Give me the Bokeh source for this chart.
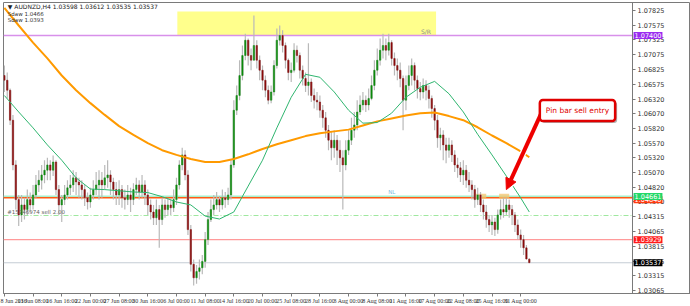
from bokeh.plotting import figure
from bokeh.models import (Range1d, FixedTicker, Label, Arrow, NormalHead, LinearAxis,
                          ColumnDataSource, BoxAnnotation, PrintfTickFormatter)
from bokeh.embed import file_html
from bokeh.resources import INLINE

# ---------------- data (AUDNZD H4, one candle per 8h) ----------------
first_open = 1.0672
last_open = 1.03598
closes = [1.0664, 1.0647, 1.0596, 1.0520, 1.0461, 1.0435, 1.0452, 1.0444, 1.0461, 1.0452,
          1.0469, 1.0486, 1.0494, 1.0503, 1.0511, 1.0520, 1.0511, 1.0525, 1.0478, 1.0452,
          1.0461, 1.0469, 1.0481, 1.0486, 1.0498, 1.0491, 1.0486, 1.0478, 1.0464, 1.0457,
          1.0469, 1.0478, 1.0486, 1.0494, 1.0486, 1.0498, 1.0503, 1.0491, 1.0478, 1.0469,
          1.0478, 1.0464, 1.0461, 1.0469, 1.0461, 1.0478, 1.0486, 1.0474, 1.0486, 1.0469,
          1.0452, 1.0440, 1.0430, 1.0444, 1.0427, 1.0452, 1.0444, 1.0452, 1.0447, 1.0461,
          1.0486, 1.0520, 1.0537, 1.0503, 1.0410, 1.0351, 1.0328, 1.0339, 1.0345, 1.0356,
          1.0393, 1.0427, 1.0444, 1.0452, 1.0461, 1.0452, 1.0464, 1.0461, 1.0469, 1.0520,
          1.0613, 1.0638, 1.0672, 1.0706, 1.0732, 1.0706, 1.0698, 1.0723, 1.0698, 1.0681,
          1.0664, 1.0647, 1.0630, 1.0644, 1.0689, 1.0732, 1.0740, 1.0723, 1.0698, 1.0677,
          1.0681, 1.0715, 1.0706, 1.0681, 1.0667, 1.0655, 1.0661, 1.0638, 1.0630, 1.0627,
          1.0613, 1.0600, 1.0579, 1.0562, 1.0549, 1.0562, 1.0545, 1.0532, 1.0520, 1.0545,
          1.0562, 1.0579, 1.0588, 1.0610, 1.0622, 1.0630, 1.0622, 1.0633, 1.0655, 1.0681,
          1.0698, 1.0715, 1.0723, 1.0715, 1.0728, 1.0701, 1.0689, 1.0681, 1.0667, 1.0630,
          1.0655, 1.0672, 1.0689, 1.0664, 1.0650, 1.0644, 1.0655, 1.0647, 1.0633, 1.0616,
          1.0596, 1.0566, 1.0571, 1.0554, 1.0545, 1.0554, 1.0537, 1.0520, 1.0515, 1.0503,
          1.0511, 1.0494, 1.0486, 1.0478, 1.0461, 1.0469, 1.0452, 1.0440, 1.0427, 1.0418,
          1.0423, 1.0410, 1.0435, 1.0444, 1.0440, 1.0452, 1.0444, 1.0435, 1.0418, 1.0401,
          1.0393, 1.0379, 1.0360, 1.03537]
highs = [1.0689, 1.0677, 1.0650, 1.0605, 1.0528, 1.0469, 1.0469, 1.0464, 1.0478, 1.0473,
         1.0486, 1.0503, 1.0511, 1.0520, 1.0528, 1.0532, 1.0528, 1.0536, 1.0528, 1.0486,
         1.0469, 1.0486, 1.0494, 1.0503, 1.0511, 1.0508, 1.0498, 1.0494, 1.0486, 1.0473,
         1.0481, 1.0494, 1.0508, 1.0511, 1.0508, 1.0520, 1.0528, 1.0511, 1.0498, 1.0491,
         1.0494, 1.0486, 1.0478, 1.0486, 1.0481, 1.0489, 1.0498, 1.0494, 1.0503, 1.0494,
         1.0478, 1.0461, 1.0452, 1.0461, 1.0452, 1.0464, 1.0461, 1.0464, 1.0461, 1.0478,
         1.0498, 1.0528, 1.0549, 1.0545, 1.0511, 1.0418, 1.0359, 1.0350, 1.0359, 1.0367,
         1.0406, 1.0440, 1.0461, 1.0469, 1.0474, 1.0467, 1.0478, 1.0474, 1.0481, 1.0528,
         1.0630, 1.0655, 1.0698, 1.0723, 1.0743, 1.0735, 1.0718, 1.0774, 1.0732, 1.0706,
         1.0689, 1.0672, 1.0655, 1.0655, 1.0698, 1.0752, 1.0757, 1.0749, 1.0728, 1.0701,
         1.0694, 1.0727, 1.0723, 1.0711, 1.0689, 1.0677, 1.0727, 1.0667, 1.0650, 1.0644,
         1.0638, 1.0622, 1.0610, 1.0588, 1.0576, 1.0579, 1.0571, 1.0562, 1.0545, 1.0562,
         1.0579, 1.0600, 1.0610, 1.0630, 1.0638, 1.0644, 1.0638, 1.0650, 1.0672, 1.0698,
         1.0718, 1.0735, 1.0743, 1.0735, 1.0743, 1.0732, 1.0711, 1.0701, 1.0694, 1.0672,
         1.0672, 1.0689, 1.0701, 1.0694, 1.0672, 1.0661, 1.0667, 1.0664, 1.0655, 1.0638,
         1.0622, 1.0605, 1.0583, 1.0579, 1.0566, 1.0566, 1.0562, 1.0545, 1.0532, 1.0525,
         1.0528, 1.0520, 1.0508, 1.0494, 1.0486, 1.0481, 1.0474, 1.0461, 1.0452, 1.0435,
         1.0435, 1.0430, 1.0444, 1.0461, 1.0464, 1.0464, 1.0461, 1.0452, 1.0440, 1.0427,
         1.0410, 1.0401, 1.0384, 1.03612]
lows = [1.0644, 1.0633, 1.0588, 1.0511, 1.0444, 1.0416, 1.0423, 1.0427, 1.0435, 1.0440,
        1.0444, 1.0464, 1.0474, 1.0478, 1.0489, 1.0494, 1.0494, 1.0501, 1.0469, 1.0435,
        1.0423, 1.0452, 1.0461, 1.0469, 1.0474, 1.0469, 1.0464, 1.0461, 1.0450, 1.0444,
        1.0447, 1.0461, 1.0469, 1.0461, 1.0464, 1.0478, 1.0481, 1.0469, 1.0461, 1.0452,
        1.0452, 1.0447, 1.0444, 1.0452, 1.0440, 1.0452, 1.0469, 1.0461, 1.0464, 1.0452,
        1.0435, 1.0427, 1.0418, 1.0418, 1.0379, 1.0418, 1.0430, 1.0435, 1.0435, 1.0440,
        1.0452, 1.0478, 1.0511, 1.0494, 1.0401, 1.0339, 1.0315, 1.0318, 1.0325, 1.0334,
        1.0345, 1.0384, 1.0423, 1.0435, 1.0444, 1.0440, 1.0444, 1.0447, 1.0452, 1.0461,
        1.0515, 1.0605, 1.0630, 1.0664, 1.0698, 1.0689, 1.0681, 1.0706, 1.0684, 1.0664,
        1.0647, 1.0635, 1.0623, 1.0625, 1.0638, 1.0684, 1.0723, 1.0711, 1.0684, 1.0664,
        1.0661, 1.0677, 1.0694, 1.0667, 1.0655, 1.0644, 1.0638, 1.0627, 1.0616, 1.0613,
        1.0600, 1.0583, 1.0566, 1.0545, 1.0528, 1.0532, 1.0520, 1.0508, 1.0444, 1.0511,
        1.0537, 1.0554, 1.0566, 1.0579, 1.0605, 1.0613, 1.0610, 1.0613, 1.0630, 1.0647,
        1.0672, 1.0689, 1.0701, 1.0698, 1.0706, 1.0689, 1.0672, 1.0664, 1.0652, 1.0579,
        1.0613, 1.0647, 1.0655, 1.0647, 1.0633, 1.0630, 1.0633, 1.0630, 1.0616, 1.0600,
        1.0579, 1.0549, 1.0545, 1.0528, 1.0523, 1.0532, 1.0525, 1.0508, 1.0498, 1.0491,
        1.0486, 1.0481, 1.0474, 1.0461, 1.0447, 1.0452, 1.0440, 1.0427, 1.0413, 1.0406,
        1.0401, 1.0399, 1.0403, 1.0427, 1.0430, 1.0435, 1.0430, 1.0418, 1.0406, 1.0393,
        1.0379, 1.0367, 1.0359, 1.03535]

ma_idx = list(range(0, 181, 5)) + [183]
ma_slow = [1.0787, 1.0757, 1.0728, 1.0701, 1.0672, 1.0647, 1.0625, 1.0605, 1.0586, 1.0571,
           1.0557, 1.0545, 1.0537, 1.0530, 1.0525, 1.0525, 1.0530, 1.0538, 1.0547, 1.0555,
           1.0562, 1.0569, 1.0574, 1.0577, 1.0580, 1.0587, 1.0594, 1.0599, 1.0604, 1.0608,
           1.0609, 1.0603, 1.0596, 1.0584, 1.0570, 1.0557, 1.0543, 1.0533]
ma_fast = [1.0638, 1.0610, 1.0583, 1.0554, 1.0528, 1.0498, 1.0479, 1.0478, 1.0476, 1.0474,
           1.0473, 1.0466, 1.0457, 1.0452, 1.0433, 1.0428, 1.0440, 1.0484, 1.0528, 1.0583,
           1.0635, 1.0674, 1.0669, 1.0644, 1.0613, 1.0591, 1.0592, 1.0608, 1.0635, 1.0652,
           1.0662, 1.0641, 1.0610, 1.0572, 1.0537, 1.0501, 1.0464, 1.0440]

time_tick_idx = list(range(0, 181, 10))
time_labels = ["8 Jun 2016", "13 Jun 08:00", "16 Jun 16:00", "22 Jun 00:00", "27 Jun 08:00",
               "30 Jun 16:00", "6 Jul 00:00", "11 Jul 08:00", "14 Jul 16:00", "20 Jul 00:00",
               "25 Jul 08:00", "28 Jul 16:00", "3 Aug 00:00", "8 Aug 08:00", "11 Aug 16:00",
               "17 Aug 00:00", "22 Aug 08:00", "25 Aug 16:00", "31 Aug 00:00"]
price_ticks = [1.07825, 1.07575, 1.07325, 1.07075, 1.06825, 1.06575, 1.06320, 1.06070,
               1.05820, 1.05570, 1.05320, 1.05070, 1.04820, 1.04570, 1.04315, 1.04065,
               1.03815, 1.03565, 1.03315, 1.03065]

sr_level = 1.07400
sr_zone_top = 1.0781
zone_start, zone_end = 60.3, 150.5
resistance_level = 1.04661
entry_level = 1.04640
order_level = 1.04340
stop_level = 1.03929
bid_level = 1.03537

# ---------------- derived candle table ----------------
n = len(closes)
idx = list(range(n))
opens = [first_open] + closes[:-1]
opens[-1] = last_open
hi = [max(h, o, c) for h, o, c in zip(highs, opens, closes)]
lo = [min(l, o, c) for l, o, c in zip(lows, opens, closes)]
top = [max(o, c) for o, c in zip(opens, closes)]
bot = [min(o, c) for o, c in zip(opens, closes)]
col = ["#0b8a0b" if c >= o else "#8a0b0b" for o, c in zip(opens, closes)]
src = ColumnDataSource(dict(x=idx, hi=hi, lo=lo, top=top, bot=bot, col=col))

FONT = "DejaVu Sans"
XFONT = "Liberation Sans Narrow"
X0 = -0.3          # left edge of the chart
AX = 219.0         # bar position where the price scale sits

p = figure(width=690, height=306, output_backend="svg", toolbar_location=None,
           x_range=Range1d(X0, 239.2), y_range=Range1d(1.03014, 1.07961),
           y_axis_location=None, min_border_left=3, min_border_right=0,
           min_border_top=2, min_border_bottom=2)
p.grid.visible = False
p.outline_line_color = "#7a7a7a"
p.background_fill_color = "white"
p.border_fill_color = "white"

# price scale: right-side axis pinned at the end of the chart area
ya = LinearAxis(fixed_location=AX)
ya.ticker = FixedTicker(ticks=price_ticks)
ya.formatter = PrintfTickFormatter(format="%.5f")
ya.major_label_text_font = FONT
ya.major_label_text_font_size = "6.5px"
ya.major_label_text_color = "#333333"
ya.axis_line_color = "#7a7a7a"
ya.major_tick_line_color = "#7a7a7a"
ya.major_tick_out = 3
ya.major_tick_in = 0
ya.minor_tick_out = 0
ya.minor_tick_in = 0
ya.major_label_standoff = 2
p.add_layout(ya, "right")

xa = p.xaxis[0]
xa.ticker = FixedTicker(ticks=time_tick_idx)
xa.major_label_overrides = {i: s for i, s in zip(time_tick_idx, time_labels)}
xa.major_label_text_align = "left"
xa.major_label_text_font = XFONT
xa.major_label_text_font_size = "6px"
xa.major_label_text_color = "#333333"
xa.axis_line_color = "#7a7a7a"
xa.major_tick_line_color = "#7a7a7a"
xa.major_tick_out = 3
xa.major_tick_in = 0
xa.minor_tick_out = 0
xa.minor_tick_in = 0
xa.major_label_standoff = 1

# S/R zone
p.add_layout(BoxAnnotation(left=zone_start, right=zone_end, bottom=sr_level, top=sr_zone_top,
                           fill_color="#ffff8c", fill_alpha=1.0, line_alpha=0, level="underlay"))
p.add_layout(Label(x=zone_end - 3.5, y=sr_level, text="S/R", text_font_size="6px",
                   text_color="#8a8a8a", text_align="center", text_baseline="bottom",
                   y_offset=1, text_font=FONT))

# horizontal levels (end at the price scale)
def hline(level, color, width, dash="solid"):
    p.segment(x0=[X0], x1=[AX], y0=[level], y1=[level], line_color=color, line_width=width,
              line_dash=dash)

hline(sr_level, "#d890ea", 1.5)
hline(resistance_level, "#a8f0cc", 2)
hline(entry_level, "#ff5a14", 1.5)
hline(order_level, "#9fe89f", 1, "5 2 1 2")
hline(stop_level, "#ff9a9a", 1.2)
hline(bid_level, "#c4ccd4", 1.2)

# pin bar highlight boxes
p.quad(left=[164.1, 172.5], right=[168.0, 176.0], bottom=[1.0462, 1.0462], top=[1.0471, 1.0471],
       fill_color="#f3c46e", fill_alpha=0.75, line_alpha=0)

# candles
p.segment(x0="x", x1="x", y0="lo", y1="hi", source=src, line_color="#b9b9b9", line_width=1.2)
p.vbar(x="x", width=0.85, top="top", bottom="bot", source=src, fill_color="#c6c6c6",
       line_alpha=0)
p.vbar(x="x", width=0.42, top="top", bottom="bot", source=src, fill_color="col",
       line_color="col", line_width=0.5)

# moving averages
p.line(ma_idx, ma_slow, line_color="#ff9a00", line_width=2)
p.line(ma_idx, ma_fast, line_color="#2fb56f", line_width=1)

# texts
p.add_layout(Label(x=1.0, y=order_level, text="#15246974 sell 2.00", text_font_size="5.5px",
                   text_color="#666666", text_baseline="bottom", y_offset=1, text_font=FONT))
p.add_layout(Label(x=133.8, y=resistance_level, text="NL", text_font_size="5.5px",
                   text_color="#80c0e0", text_baseline="bottom", y_offset=2, text_font=FONT))
p.add_layout(Label(x=1.2, y=1.07893, text="\u25BC AUDNZD,H4  1.03598 1.03612 1.03535 1.03537",
                   text_font_size="6px", text_color="#222222", text_baseline="middle", text_font=FONT))
p.add_layout(Label(x=1.2, y=1.07765, text="Sdaw 1.0466", text_font_size="5.5px",
                   text_color="#333333", text_baseline="middle", text_font=FONT))
p.add_layout(Label(x=1.2, y=1.07665, text="Sdaw 1.0393", text_font_size="5.5px",
                   text_color="#333333", text_baseline="middle", text_font=FONT))

# arrow + callout
p.add_layout(Arrow(end=NormalHead(size=13, fill_color="white", line_color="white"),
                   x_start=187.0, y_start=1.0606, x_end=174.6, y_end=1.0474,
                   line_color="white", line_width=6.5))
p.add_layout(Arrow(end=NormalHead(size=11, fill_color="#ee0000", line_color="#ee0000"),
                   x_start=187.0, y_start=1.0606, x_end=175.0, y_end=1.0478,
                   line_color="#ee0000", line_width=4))
p.add_layout(Label(x=199.8, y=1.06125, text="Pin bar sell entry", text_align="center",
                   text_baseline="middle", text_color="#e00000", text_font_size="7.5px",
                   text_font=FONT, background_fill_color="#b0b0b0", x_offset=2, y_offset=-2,
                   padding=6, border_radius=3))
p.add_layout(Label(x=199.8, y=1.06125, text="Pin bar sell entry", text_align="center",
                   text_baseline="middle", text_color="#e00000", text_font_size="7.5px",
                   text_font=FONT, background_fill_color="white", border_line_color="#e00000",
                   border_line_width=2.5, padding=6, border_radius=3))

# price tags on the price scale
tags = [(sr_level, "1.07400", "#9a2cf0"), (entry_level, "1.04640", "#ff3a10"),
        (resistance_level, "1.04661", "#22d868"), (stop_level, "1.03929", "#ff1a1a"),
        (bid_level, "1.03537", "#000000")]
for lvl, txt, c in tags:
    y_off = -2 if txt == "1.04640" else 0
    p.add_layout(Label(x=AX, y=lvl, text=txt, text_font_size="6.5px", text_color="white",
                       background_fill_color=c, text_baseline="middle", text_align="left",
                       x_offset=1, y_offset=y_off, padding=1, text_font=FONT))

open("out.html", "w").write(file_html(p, INLINE))
